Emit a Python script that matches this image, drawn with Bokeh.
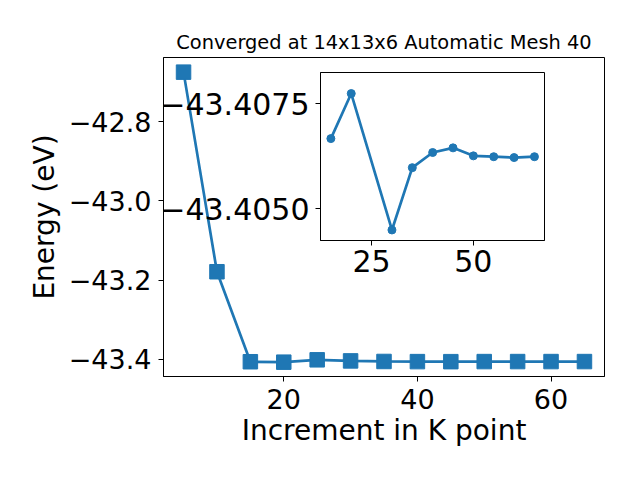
from bokeh.plotting import figure
from bokeh.models import Range1d, FixedTicker, CustomJSTickFormatter
from bokeh.layouts import column
from bokeh.embed import file_html
from bokeh.resources import INLINE

# ---- data ----
k_points = [5, 10, 15, 20, 25, 30, 35, 40, 45, 50, 55, 60, 65]
energy = [-42.674, -43.179, -43.40667, -43.40774, -43.4018, -43.40450, -43.40598,
          -43.40634, -43.40645, -43.40626, -43.40624, -43.40622, -43.40624]
inset_k = [15, 20, 30, 35, 40, 45, 50, 55, 60, 65]
inset_energy = [-43.40667, -43.40774, -43.40450, -43.40598, -43.40634,
                -43.40645, -43.40626, -43.40624, -43.40622, -43.40624]
x_ticks = [20, 40, 60]
y_ticks = [-42.8, -43.0, -43.2, -43.4]
inset_x_ticks = [25, 50]
inset_y_ticks = [-43.4075, -43.4050]
title_text = "Converged at 14x13x6 Automatic Mesh 40"
x_label = "Increment in K point"
y_label = "Energy (eV)"

BLUE = "#1f77b4"
FONT = "DejaVu Sans"

def fmt(decimals):
    return CustomJSTickFormatter(code=(
        "const s = Math.abs(tick).toFixed(%d);"
        "return (tick < 0 ? '\\u2212' : '') + s;" % decimals))

def style_axes(fig, size):
    for ax in (fig.xaxis[0], fig.yaxis[0]):
        ax.major_label_text_font = FONT
        ax.major_label_text_font_size = size
        ax.major_label_text_color = "black"
        ax.axis_label_text_font = FONT
        ax.axis_label_text_font_size = "28px"
        ax.axis_label_text_font_style = "normal"
        ax.axis_label_text_color = "black"
        ax.minor_tick_line_color = None
        ax.major_tick_in = 0
        ax.major_tick_out = 5
        ax.major_tick_line_color = "black"
        ax.axis_line_color = "black"

# ---- main figure ----
p = figure(output_backend="svg", toolbar_location=None,
           frame_width=441, frame_height=319,
           min_border_left=155, min_border_top=57, min_border_right=20, min_border_bottom=85,
           x_range=Range1d(2, 68), y_range=Range1d(-43.444, -42.637),
           title=title_text)
p.title.text_font = FONT
p.title.text_font_size = "19.4px"
p.title.text_font_style = "normal"
p.title.text_color = "black"
p.title.align = "center"
p.title.standoff = 7
p.grid.visible = False
p.outline_line_color = "black"
p.outline_line_width = 1
p.background_fill_color = "white"
p.border_fill_color = "white"

p.line(k_points, energy, line_color=BLUE, line_width=2.7)
p.scatter(k_points, energy, marker="square", size=14.5, fill_color=BLUE, line_color=BLUE)

p.xaxis.ticker = FixedTicker(ticks=x_ticks)
p.yaxis.ticker = FixedTicker(ticks=y_ticks)
p.yaxis.formatter = fmt(1)
p.xaxis.axis_label = x_label
p.yaxis.axis_label = y_label
style_axes(p, "27px")
p.xaxis.major_label_standoff = 7
p.yaxis.major_label_standoff = 7
p.xaxis.axis_label_standoff = 2
p.yaxis.axis_label_standoff = 5

# ---- inset figure ----
ins = figure(output_backend="svg", toolbar_location=None,
             frame_width=224, frame_height=168,
             min_border_left=160, min_border_top=4, min_border_right=4, min_border_bottom=44,
             x_range=Range1d(12.45, 67.47), y_range=Range1d(-43.40425, -43.40824))
ins.grid.visible = False
ins.outline_line_color = "black"
ins.outline_line_width = 1
ins.background_fill_color = "white"
ins.border_fill_alpha = 0
ins.line(inset_k, inset_energy, line_color=BLUE, line_width=2.7)
ins.scatter(inset_k, inset_energy, marker="circle", size=8, fill_color=BLUE, line_color=BLUE)
ins.xaxis.ticker = FixedTicker(ticks=inset_x_ticks)
ins.yaxis.ticker = FixedTicker(ticks=inset_y_ticks)
ins.yaxis.formatter = fmt(4)
style_axes(ins, "30px")
ins.xaxis.major_label_standoff = 4
ins.yaxis.major_label_standoff = 6
ins.styles = {"position": "absolute", "left": "156.7px", "top": "68.3px", "z-index": "10"}

layout = column(p, ins)
open("out.html", "w").write(file_html(layout, INLINE))
